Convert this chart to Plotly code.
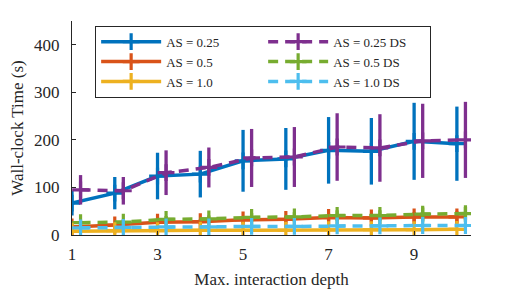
import plotly.graph_objects as go

depth = [1, 2, 3, 4, 5, 6, 7, 8, 9, 10]
DS_OFFSET = 0.2

as025 = [67, 88, 124, 128, 156, 160, 178, 176, 197, 192]
as025_err = [26, 34, 49, 49, 65, 65, 70, 70, 81, 78]
as05 = [17, 21, 27, 28, 32, 33, 37, 36, 38, 38]
as05_err = [3, 4, 5, 5, 7, 7, 8, 8, 10, 12]
as10 = [8, 9, 9, 10, 10, 10, 11, 11, 11, 12]
as10_err = [1, 1, 1, 1, 1, 1, 1, 1, 1, 1]

as025ds = [95, 93, 131, 142, 162, 164, 185, 183, 198, 200]
as025ds_err = [31, 29, 47, 42, 61, 63, 71, 71, 78, 80]
as05ds = [26, 27, 33, 34, 37, 38, 41, 41, 44, 45]
as05ds_err = [4, 5, 7, 7, 9, 10, 11, 11, 14, 14]
as10ds = [15, 16, 17, 17, 18, 18, 19, 19, 20, 20]
as10ds_err = [1, 1, 2, 2, 2, 2, 2, 2, 2, 3]

x_ticks = [1, 3, 5, 7, 9]
y_ticks = [0, 100, 200, 300, 400]

FONT = "Liberation Serif, Times New Roman, serif"

series = [
    ("AS = 0.25", depth, as025, as025_err, "#0072BD", "solid"),
    ("AS = 0.25 DS", [d + DS_OFFSET for d in depth], as025ds, as025ds_err, "#7E2F8E", "dash"),
    ("AS = 0.5", depth, as05, as05_err, "#D95319", "solid"),
    ("AS = 0.5 DS", [d + DS_OFFSET for d in depth], as05ds, as05ds_err, "#77AC30", "dash"),
    ("AS = 1.0", depth, as10, as10_err, "#EDB120", "solid"),
    ("AS = 1.0 DS", [d + DS_OFFSET for d in depth], as10ds, as10ds_err, "#4DBEEE", "dash"),
]

fig = go.Figure()
for name, xs, ys, es, col, dash in series:
    fig.add_trace(go.Scatter(
        x=xs, y=ys, name=name, mode="lines+markers",
        line=dict(color=col, width=3.5, dash="10px,7px" if dash == "dash" else "solid"),
        marker=dict(symbol="cross-thin", size=12, color=col, line=dict(color=col, width=3.2)),
        error_y=dict(type="data", array=es, visible=True, color=col, thickness=3.3, width=0),
    ))

# page body has an 8px default margin, so the figure is sized/offset to compensate
fig.update_layout(
    width=512, height=287,
    margin=dict(l=64, r=49, t=13, b=60, autoexpand=False),
    paper_bgcolor="white", plot_bgcolor="white",
    font=dict(family=FONT, size=15, color="#262626"),
    showlegend=True,
    legend=dict(
        orientation="h", x=0.058, y=0.978, xanchor="left", yanchor="top",
        entrywidth=92, entrywidthmode="pixels", itemwidth=60,
        bordercolor="#262626", borderwidth=1, bgcolor="white",
        font=dict(family=FONT, size=13), tracegroupgap=0,
    ),
    xaxis=dict(
        range=[1, 10.33], tickvals=x_ticks, ticktext=[str(v) for v in x_ticks],
        showgrid=False, zeroline=False, showline=True, linecolor="#262626", linewidth=1,
        ticks="inside", ticklen=4, tickcolor="#262626", ticklabelstandoff=4,
        title=dict(text="Max. interaction depth", standoff=9, font=dict(size=17)),
        tickfont=dict(size=17),
    ),
    yaxis=dict(
        range=[0, 450], tickvals=y_ticks, ticktext=[str(v) for v in y_ticks],
        showgrid=False, zeroline=False, showline=True, linecolor="#262626", linewidth=1,
        ticks="inside", ticklen=4, tickcolor="#262626", ticklabelstandoff=8,
        title=dict(text="Wall-clock Time (s)", standoff=12, font=dict(size=17)),
        tickfont=dict(size=17),
    ),
)

fig.write_html("out.html")
